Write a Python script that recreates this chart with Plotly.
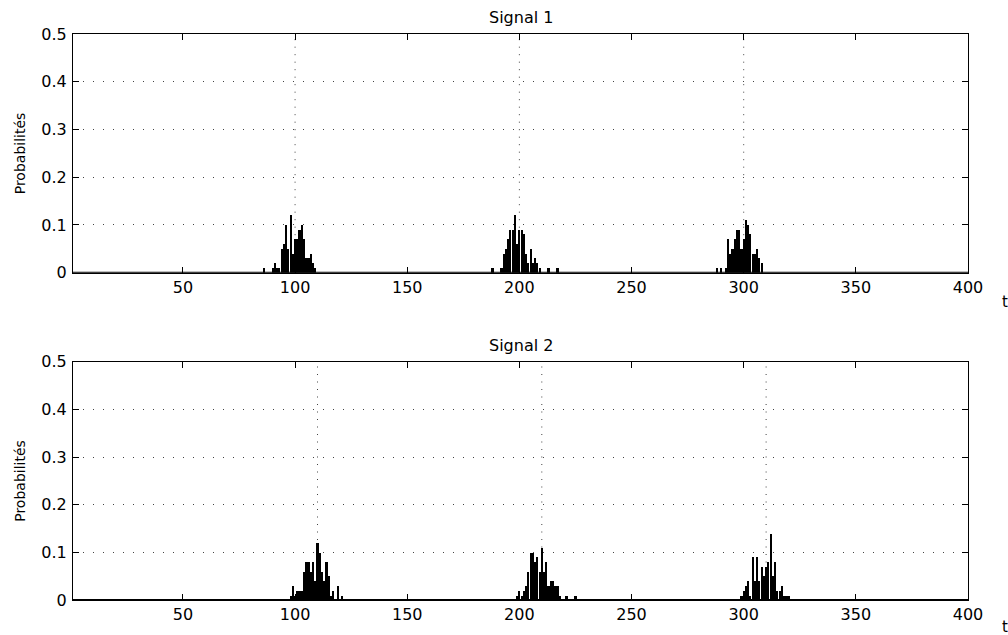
import plotly.graph_objects as go
from plotly.subplots import make_subplots

# ---- data ----
s1_t = [86, 90, 91, 92, 93, 94, 95, 96, 97, 98, 99, 100, 101, 102, 103, 104, 105, 106, 107, 108, 109,
        188, 192, 193, 194, 195, 196, 197, 198, 199, 200, 201, 202, 203, 204, 205, 206, 207, 208, 209, 213, 217,
        288, 290, 292, 293, 294, 295, 296, 297, 298, 299, 300, 301, 302, 303, 304, 305, 306, 307, 308]
s1_p = [0.01, 0.01, 0.02, 0.01, 0.01, 0.05, 0.06, 0.10, 0.05, 0.12, 0.04, 0.07, 0.07, 0.09, 0.10, 0.07, 0.03, 0.03, 0.04, 0.02, 0.01,
        0.01, 0.01, 0.04, 0.05, 0.07, 0.09, 0.09, 0.12, 0.06, 0.09, 0.09, 0.08, 0.04, 0.02, 0.05, 0.02, 0.03, 0.02, 0.01, 0.01, 0.01,
        0.01, 0.01, 0.01, 0.07, 0.04, 0.05, 0.07, 0.09, 0.09, 0.05, 0.07, 0.11, 0.10, 0.08, 0.04, 0.04, 0.05, 0.03, 0.02]

s2_t = [98, 99, 100, 101, 102, 103, 104, 105, 106, 107, 108, 109, 110, 111, 112, 113, 114, 115, 116, 117, 119, 121,
        199, 200, 201, 202, 203, 204, 205, 206, 207, 208, 209, 210, 211, 212, 213, 214, 215, 216, 217, 218, 221, 225,
        299, 300, 301, 302, 303, 304, 305, 306, 307, 308, 309, 310, 311, 312, 313, 314, 315, 316, 317, 318, 319, 320]
s2_p = [0.01, 0.03, 0.01, 0.02, 0.02, 0.02, 0.06, 0.08, 0.08, 0.06, 0.08, 0.04, 0.12, 0.10, 0.06, 0.04, 0.08, 0.05, 0.01, 0.02, 0.03, 0.01,
        0.01, 0.02, 0.01, 0.02, 0.03, 0.06, 0.10, 0.10, 0.08, 0.09, 0.06, 0.11, 0.06, 0.08, 0.03, 0.04, 0.04, 0.03, 0.03, 0.01, 0.01, 0.01,
        0.01, 0.02, 0.03, 0.04, 0.01, 0.09, 0.04, 0.09, 0.04, 0.07, 0.05, 0.07, 0.08, 0.14, 0.05, 0.08, 0.02, 0.02, 0.03, 0.01, 0.01, 0.01]

s1_marks = [100, 200, 300]
s2_marks = [110, 210, 310]
titles = ["Signal 1", "Signal 2"]
x_ticks = [50, 100, 150, 200, 250, 300, 350, 400]
y_ticks = [0, 0.1, 0.2, 0.3, 0.4, 0.5]
y_label = "Probabilités"
x_label = "t"

FONT = "DejaVu Sans"

fig = make_subplots(rows=2, cols=1)

fig.add_trace(go.Bar(x=s1_t, y=s1_p, width=0.95, marker=dict(color="black", line=dict(width=0)),
                     showlegend=False, hoverinfo="skip"), row=1, col=1)
fig.add_trace(go.Bar(x=s2_t, y=s2_p, width=0.95, marker=dict(color="black", line=dict(width=0)),
                     showlegend=False, hoverinfo="skip"), row=2, col=1)

axis_common = dict(showline=True, linecolor="black", linewidth=1, mirror="ticks",
                   ticks="inside", ticklen=6, tickcolor="black", tickwidth=1,
                   tickfont=dict(family=FONT, size=16, color="black"), zeroline=False)

for xa, ya in [("xaxis", "yaxis"), ("xaxis2", "yaxis2")]:
    fig.layout[xa].update(range=[1, 400], tickmode="array", tickvals=x_ticks,
                          ticktext=[str(v) for v in x_ticks], showgrid=False,
                          ticklabelstandoff=0, **axis_common)
    fig.layout[ya].update(range=[0, 0.5], tickmode="array", tickvals=y_ticks,
                          ticktext=["0", "0.1", "0.2", "0.3", "0.4", "0.5"],
                          showgrid=True, gridcolor="#444", gridwidth=1, griddash="1px,9px",
                          ticklabelstandoff=2, **axis_common)

fig.layout.yaxis.domain = [0.5783, 1.0]
fig.layout.yaxis2.domain = [0.0, 0.4210]
fig.layout.xaxis.domain = [0, 1]
fig.layout.xaxis2.domain = [0, 1]

shapes = []
for v in s1_marks:
    shapes.append(dict(type="line", xref="x", yref="y", x0=v, x1=v, y0=0, y1=0.5,
                       line=dict(color="#444", width=1, dash="1px,6.5px"), layer="below"))
for v in s2_marks:
    shapes.append(dict(type="line", xref="x2", yref="y2", x0=v, x1=v, y0=0, y1=0.5,
                       line=dict(color="#444", width=1, dash="1px,6.5px"), layer="below"))
# bar baselines
shapes.append(dict(type="line", xref="x", yref="y", x0=1, x1=400, y0=0, y1=0,
                   line=dict(color="black", width=2)))
shapes.append(dict(type="line", xref="x2", yref="y2", x0=1, x1=400, y0=0, y1=0,
                   line=dict(color="black", width=2)))

annotations = []
for title, ty, ly, tty in [(titles[0], 1.0283, 0.7891, 0.5265), (titles[1], 0.4493, 0.2105, -0.0477)]:
    annotations.append(dict(text=title, xref="paper", yref="paper", x=0.5, y=ty,
                            xanchor="center", yanchor="middle", showarrow=False,
                            font=dict(family=FONT, size=16, color="black")))
    annotations.append(dict(text=y_label, xref="paper", yref="paper", x=-0.0593, y=ly,
                            xanchor="center", yanchor="middle", textangle=-90, showarrow=False,
                            font=dict(family=FONT, size=14, color="black")))
    annotations.append(dict(text=x_label, xref="paper", yref="paper", x=1.0418, y=tty,
                            xanchor="center", yanchor="middle", showarrow=False,
                            font=dict(family=FONT, size=15, color="black")))

fig.update_layout(width=1008, height=635, margin=dict(l=73, r=40, t=34, b=35),
                  plot_bgcolor="white", paper_bgcolor="white", bargap=0,
                  shapes=shapes, annotations=annotations, showlegend=False)

fig.write_html("out.html", config={"displayModeBar": False},
               post_script="document.body.style.margin='0';document.body.style.overflow='hidden';")
